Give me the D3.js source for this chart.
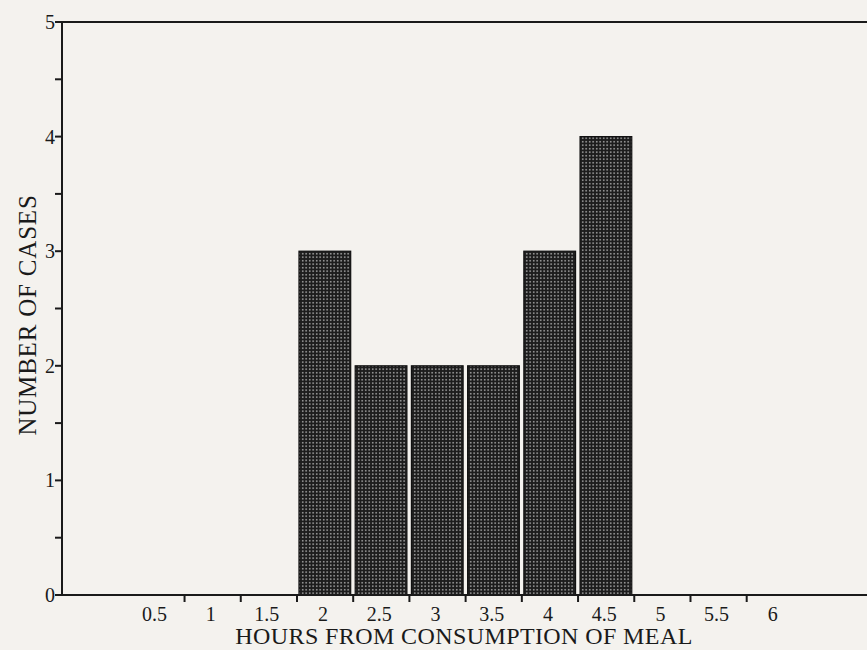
<!DOCTYPE html>
<html>
<head>
<meta charset="utf-8">
<script src="https://cdn.jsdelivr.net/npm/d3@7"></script>
<style>
  body { margin: 0; background: #f4f2ee; }
  svg { display: block; }
</style>
</head>
<body>
<svg id="chart"></svg>
<script>
// hours from meal (bin centres) and number of cases in each bin
const hours = [0.5, 1, 1.5, 2, 2.5, 3, 3.5, 4, 4.5, 5, 5.5, 6];
const hourLabels = ["0.5", "1", "1.5", "2", "2.5", "3", "3.5", "4", "4.5", "5", "5.5", "6"];
const cases = [0, 0, 0, 3, 2, 2, 2, 3, 4, 0, 0, 0];
const yTicks = [0, 1, 2, 3, 4, 5];
const yMinorTicks = [0.5, 1.5, 2.5, 3.5, 4.5];

const size = { width: 867, height: 650 };
const margin = { top: 22, right: 0, bottom: 55, left: 62 };
const font = "'Liberation Serif', 'DejaVu Serif', serif";

const svg = d3.select('#chart')
  .attr('width', size.width)
  .attr('height', size.height);

// dotted fill used for the bars
const pat = svg.append('defs').append('pattern')
  .attr('id', 'dots')
  .attr('patternUnits', 'userSpaceOnUse')
  .attr('width', 3.5)
  .attr('height', 3.5);
pat.append('rect').attr('width', 3.5).attr('height', 3.5).attr('fill', '#1c1c1c');
pat.append('rect').attr('x', 1).attr('y', 1).attr('width', 1.4).attr('height', 1.4).attr('fill', '#c4c4c4');

const x = d3.scaleLinear()
  .domain([-0.34, 6.82])
  .range([margin.left, size.width - margin.right]);

const y = d3.scaleLinear()
  .domain([0, 5])
  .range([size.height - margin.bottom, margin.top]);

const half = 0.25;
const data = hours.map((h, i) => ({ h, label: hourLabels[i], n: cases[i] }));

// bars
svg.append('g')
  .selectAll('rect')
  .data(data.filter(d => d.n > 0))
  .join('rect')
  .attr('x', d => x(d.h - half) + 2)
  .attr('y', d => y(d.n))
  .attr('width', d => x(d.h + half) - x(d.h - half) - 4.5)
  .attr('height', d => y(0) - y(d.n))
  .attr('fill', 'url(#dots)')
  .attr('stroke', '#111')
  .attr('stroke-width', 1.2);

// frame: top line, left axis, bottom axis
const line = svg.append('g').attr('stroke', '#1a1a1a').attr('stroke-width', 2).attr('fill', 'none');
line.append('line')
  .attr('x1', x.range()[0]).attr('x2', x.range()[1])
  .attr('y1', y(5)).attr('y2', y(5));
line.append('line')
  .attr('x1', x.range()[0]).attr('x2', x.range()[0])
  .attr('y1', y(5)).attr('y2', y(0));
line.append('line')
  .attr('x1', x.range()[0]).attr('x2', x.range()[1])
  .attr('y1', y(0)).attr('y2', y(0));

// y ticks
line.selectAll('.ymaj')
  .data(yTicks)
  .join('line')
  .attr('x1', margin.left - 7).attr('x2', margin.left)
  .attr('y1', d => y(d)).attr('y2', d => y(d));
line.selectAll('.ymin')
  .data(yMinorTicks)
  .join('line')
  .attr('x1', margin.left - 7).attr('x2', margin.left)
  .attr('y1', d => y(d)).attr('y2', d => y(d));

svg.append('g')
  .selectAll('text')
  .data(yTicks)
  .join('text')
  .attr('x', margin.left - 7)
  .attr('y', d => y(d) + 7)
  .attr('text-anchor', 'end')
  .attr('font-family', font)
  .attr('font-size', 20)
  .attr('fill', '#1a1a1a')
  .text(d => d);

// x ticks at bin edges (skip the first edge, as in the original)
const edges = hours.slice(0, -1).map(h => h + half);
line.selectAll('.xt')
  .data(edges)
  .join('line')
  .attr('x1', d => x(d)).attr('x2', d => x(d))
  .attr('y1', y(0)).attr('y2', y(0) + 7);

svg.append('g')
  .selectAll('text')
  .data(data)
  .join('text')
  .attr('x', d => x(d.h) - 2)
  .attr('y', 621)
  .attr('text-anchor', 'middle')
  .attr('font-family', font)
  .attr('font-size', 20)
  .attr('fill', '#1a1a1a')
  .text(d => d.label);

// axis titles
svg.append('text')
  .attr('x', 464)
  .attr('y', 644)
  .attr('text-anchor', 'middle')
  .attr('font-family', font)
  .attr('font-size', 24)
  .attr('letter-spacing', 0.4)
  .attr('fill', '#1a1a1a')
  .text('HOURS FROM CONSUMPTION OF MEAL');

svg.append('text')
  .attr('transform', `translate(36, 315) rotate(-90)`)
  .attr('text-anchor', 'middle')
  .attr('font-family', font)
  .attr('font-size', 25)
  .attr('letter-spacing', 0.8)
  .attr('fill', '#1a1a1a')
  .text('NUMBER OF CASES');
</script>
</body>
</html>
